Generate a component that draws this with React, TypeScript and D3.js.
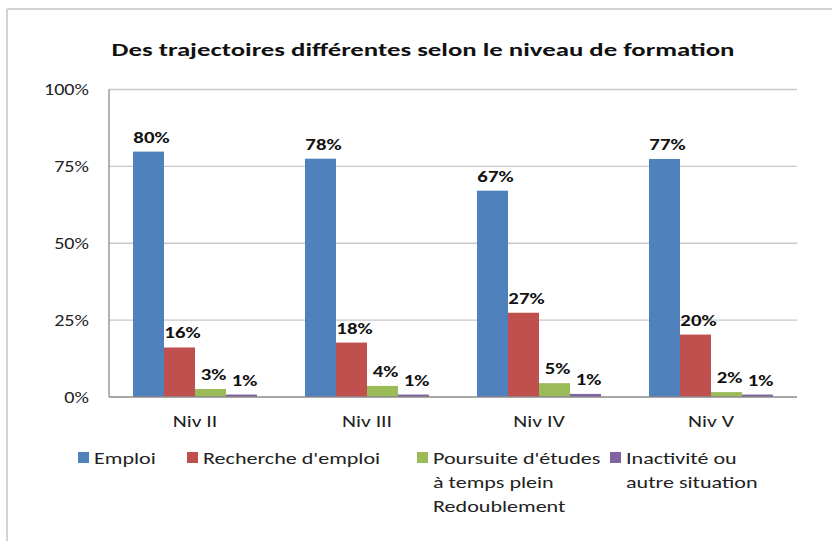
import React from "react";
import * as d3 from "d3";

const categories = ["Niv II", "Niv III", "Niv IV", "Niv V"];
const seriesNames = ["Emploi", "Recherche d'emploi", "Poursuite d'études à temps plein Redoublement", "Inactivité ou autre situation"];
const emploi = [79.8, 77.5, 67.1, 77.4];
const recherche = [16.1, 17.7, 27.4, 20.3];
const poursuite = [2.6, 3.6, 4.5, 1.6];
const inactivite = [0.8, 0.8, 1.0, 0.8];
const yTicks = [0, 25, 50, 75, 100];
const colors = ["#4F81BD", "#C0504D", "#9BBB59", "#8064A2"];
const legendLines = [["Emploi"], ["Recherche d'emploi"], ["Poursuite d'études", "à temps plein", "Redoublement"], ["Inactivité ou", "autre situation"]];

const W = 832, H = 541;
const FONT = "Carlito, Calibri, Lato, 'Open Sans', sans-serif";

function ST(props: { x: number; y: number; sx: number; anchor?: string; size: number; bold?: boolean; fill?: string; children: any }) {
  const { x, y, sx, anchor = "start", size, bold, fill = "#1a1a1a", children } = props;
  return (
    <text transform={`translate(${x},${y}) scale(${sx},1)`} textAnchor={anchor} fontSize={size} fontWeight={bold ? "bold" : "normal"} fill={fill}>
      {children}
    </text>
  );
}

export default function App() {
  const series = [emploi, recherche, poursuite, inactivite];
  const x0 = d3.scaleBand<string>().domain(categories).range([109, 797]).padding(0);
  const x1 = d3.scaleBand<number>().domain([0, 1, 2, 3]).range([0, x0.bandwidth()]).paddingInner(0).paddingOuter(0.774);
  const y = d3.scaleLinear().domain([0, 100]).range([397, 89.5]);
  const legendX = [78, 187, 417, 610];

  return (
    <svg width={W} height={H} style={{ position: "absolute", left: 0, top: 0, background: "#fff" }} fontFamily={FONT}>
      <rect x={0} y={0} width={W} height={H} fill="#fff" />
      <line x1={7} y1={9} x2={W} y2={9} stroke="#c4c4c4" strokeWidth={1.5} />
      <line x1={7} y1={9} x2={7} y2={H} stroke="#c4c4c4" strokeWidth={1.5} />
      <ST x={423} y={56} sx={1.41} anchor="middle" size={19} bold fill="#111">
        Des trajectoires différentes selon le niveau de formation
      </ST>
      {yTicks.map((t) => (
        <g key={t}>
          {t > 0 && <line x1={109} x2={797} y1={y(t)} y2={y(t)} stroke="#c8c8c8" strokeWidth={1.3} />}
          <ST x={89} y={y(t) + 5.5} sx={1.3} anchor="end" size={15.5} fill="#222">{t}%</ST>
        </g>
      ))}
      {categories.map((c, ci) => (
        <g key={c} transform={`translate(${x0(c)},0)`}>
          {series.map((s, si) => (
            <rect key={si} x={x1(si)} y={y(s[ci])} width={x1.bandwidth()} height={y(0) - y(s[ci])} fill={colors[si]} />
          ))}
          {series.map((s, si) => (
            <ST key={"l" + si} x={(x1(si) as number) + x1.bandwidth() / 2 + 3} y={y(s[ci]) - 9} sx={1.3} anchor="middle" size={16} bold fill="#111">
              {Math.round(s[ci])}%
            </ST>
          ))}
          <ST x={x0.bandwidth() / 2} y={427} sx={1.4} anchor="middle" size={15.5} fill="#222">{c}</ST>
        </g>
      ))}
      <line x1={109} x2={109} y1={89.5} y2={397} stroke="#8a8a8a" strokeWidth={1.3} />
      <line x1={109} x2={797} y1={397} y2={397} stroke="#8a8a8a" strokeWidth={1.3} />
      {seriesNames.map((n, i) => (
        <g key={n}>
          <rect x={legendX[i]} y={452} width={11} height={11} fill={colors[i]} />
          {legendLines[i].map((line, li) => (
            <ST key={li} x={legendX[i] + 16} y={463.5 + li * 24} sx={1.38} size={16} fill="#222">{line}</ST>
          ))}
        </g>
      ))}
    </svg>
  );
}
